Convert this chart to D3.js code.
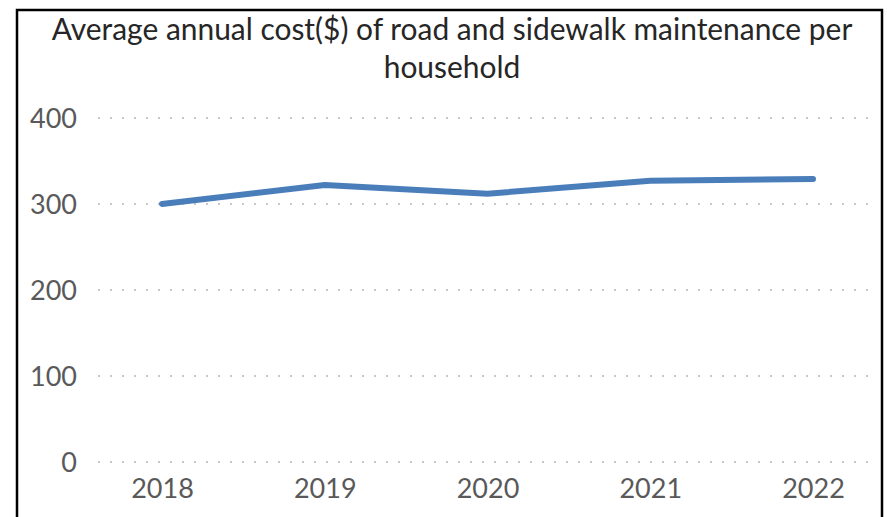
<!DOCTYPE html>
<html>
<head>
<meta charset="utf-8">
<script src="https://cdn.jsdelivr.net/npm/d3@7"></script>
<style>
  html, body { margin: 0; padding: 0; background: #fff; }
  svg { display: block; }
</style>
</head>
<body>
<svg id="chart" width="887" height="517"></svg>
<script>
const titleLines = ["Average annual cost($) of road and sidewalk maintenance per", "household"];
const years = ["2018", "2019", "2020", "2021", "2022"];
const costs = [300, 322, 312, 327, 329];
const yTicks = [0, 100, 200, 300, 400];

const svg = d3.select("#chart");

// chart frame
svg.append("rect")
  .attr("x", 17).attr("y", 10)
  .attr("width", 865).attr("height", 530)
  .attr("fill", "#fff").attr("stroke", "#000").attr("stroke-width", 2.5);

const x = d3.scalePoint().domain(years).range([162, 813]);
const y = d3.scaleLinear().domain([0, 400]).range([462, 118]);

// gridlines
svg.append("g").selectAll("line").data(yTicks).join("line")
  .attr("x1", 98).attr("x2", 869)
  .attr("y1", d => y(d)).attr("y2", d => y(d))
  .attr("stroke", "#c8c8c8").attr("stroke-width", 2)
  .attr("stroke-dasharray", "2 10");

// y axis labels
const yAxis = d3.axisLeft(y).tickValues(yTicks).tickSize(0).tickPadding(0);
const gy = svg.append("g").attr("transform", "translate(77,0)").call(yAxis);
gy.select(".domain").remove();
gy.selectAll("text")
  .attr("font-family", "Lato, 'Open Sans', sans-serif")
  .attr("font-size", 27).attr("fill", "#595959")
  .attr("dy", "0.36em");

// x axis labels
const xAxis = d3.axisBottom(x).tickSize(0).tickPadding(0);
const gx = svg.append("g").attr("transform", "translate(0,479)").call(xAxis);
gx.select(".domain").remove();
gx.selectAll("text")
  .attr("font-family", "Lato, 'Open Sans', sans-serif")
  .attr("font-size", 27).attr("fill", "#595959")
  .attr("dy", "0.71em");

// line
const line = d3.line().x((d, i) => x(years[i])).y(d => y(d));
svg.append("path").datum(costs)
  .attr("d", line)
  .attr("fill", "none").attr("stroke", "#4a7ebb")
  .attr("stroke-width", 6)
  .attr("stroke-linecap", "round").attr("stroke-linejoin", "round");

// title
const title = svg.append("g");
const t1 = title.append("text")
  .attr("x", 452).attr("y", 40)
  .attr("text-anchor", "middle")
  .attr("font-family", "Lato, 'Open Sans', sans-serif")
  .attr("font-size", 30).attr("fill", "#262626")
  .text(titleLines[0]);
const len = t1.node().getComputedTextLength();
const fs = 30 * 801 / len;
t1.attr("font-size", fs);
title.append("text")
  .attr("x", 452).attr("y", 78)
  .attr("text-anchor", "middle")
  .attr("font-family", "Lato, 'Open Sans', sans-serif")
  .attr("font-size", fs).attr("fill", "#262626")
  .text(titleLines[1]);
</script>
</body>
</html>
